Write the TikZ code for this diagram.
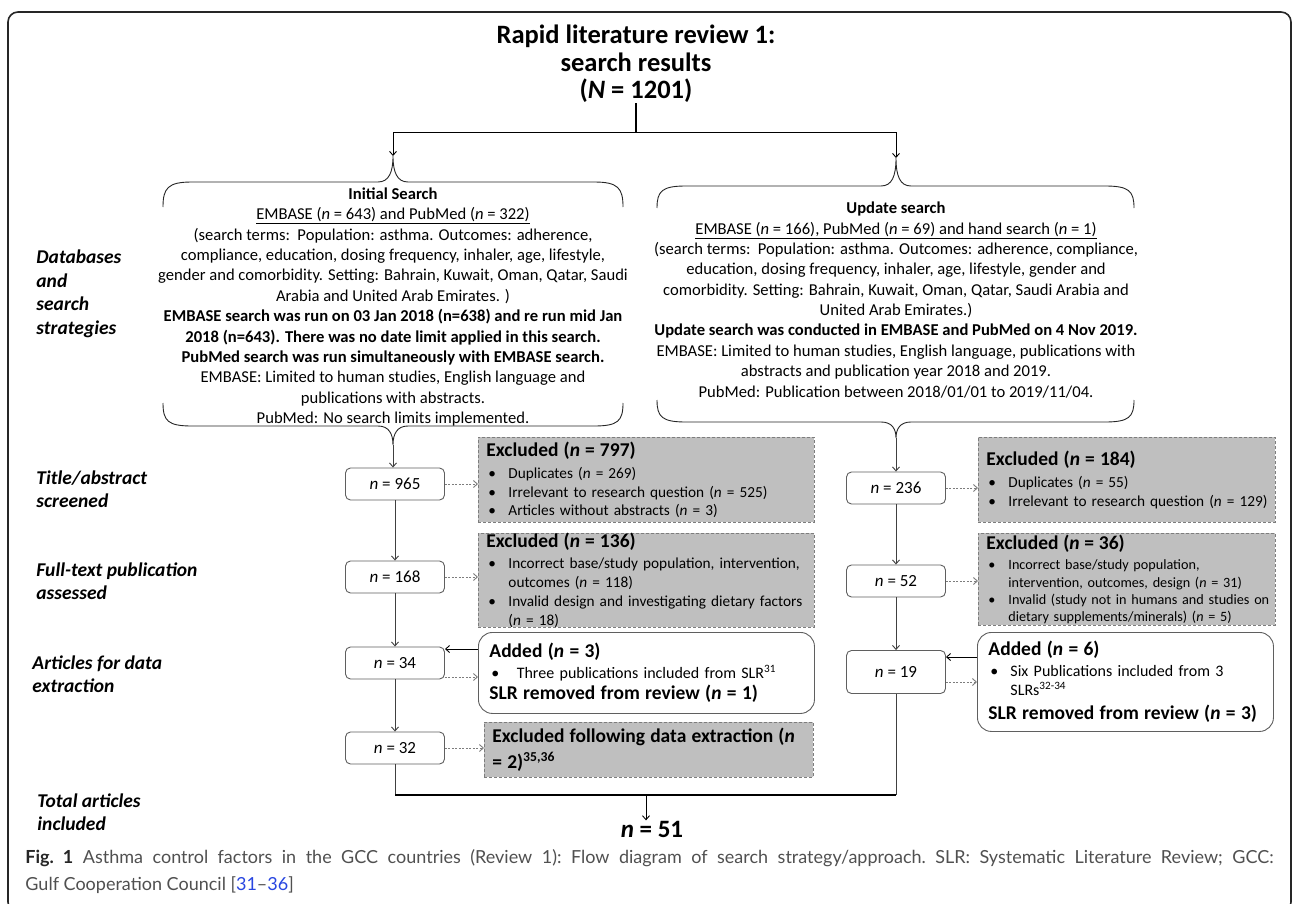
\documentclass[tikz,border=0pt]{standalone}
\usepackage{fontspec}
\setmainfont{Carlito}
\newfontfamily\capfont[Ligatures=TeX]{Lato}
\usepackage{tikz}
\usetikzlibrary{arrows.meta}

\definecolor{exgray}{RGB}{191,191,191}
\definecolor{exline}{RGB}{125,125,125}
\definecolor{boxgray}{RGB}{95,95,95}
\definecolor{capgray}{RGB}{80,80,80}
\definecolor{linkblue}{RGB}{40,70,225}

\newcommand{\hd}[1]{\mbox{\fontsize{19.5}{19}\selectfont\bfseries #1}}
\newcommand{\bul}[1]{\hspace*{2pt}\makebox[20pt][l]{\textbullet}\mbox{#1}}
\newcommand{\hang}[1]{\hspace*{22pt}\mbox{#1}}

\begin{document}
\begin{tikzpicture}[x=1pt,y=-1pt,>={Straight Barb[length=4pt,width=7pt]},line width=0.9pt,
  title/.style={align=center,inner sep=0pt,font=\fontsize{26.5}{27.5}\selectfont\bfseries},
  searchtext/.style={align=center,inner sep=0pt,font=\fontsize{16.6}{20.35}\selectfont},
  rowlabel/.style={anchor=west,align=left,inner sep=0pt,font=\fontsize{19.5}{23.5}\selectfont\bfseries\itshape},
  nbox/.style={draw=boxgray,fill=white,rounded corners=5pt,minimum width=99,minimum height=32,inner sep=0pt,font=\fontsize{17}{20}\selectfont},
  exbox/.style={draw=exline,dash pattern=on 3pt off 2pt,fill=exgray,anchor=north west,inner xsep=8pt,inner ysep=0pt,align=left,font=\fontsize{15.3}{18.8}\selectfont},
  addbox/.style={draw=boxgray,fill=white,rounded corners=14pt,anchor=north west,inner xsep=11pt,inner ysep=0pt,align=left,font=\fontsize{16}{19}\selectfont},
  brace/.style={draw=black!85},
  flow/.style={->,draw=black!75},
  skip/.style={->,draw=exline,dash pattern=on 2pt off 1.5pt},
  back/.style={->,draw=black}]

  \path[fill=white,use as bounding box] (0,0) rectangle (1292,904);
  \draw[line width=1.6pt,rounded corners=10pt,black!85] (8,12) rectangle (1291,912);

  \node[title] (title) at (636,64) {Rapid literature review 1:\\search results\\(\textit{N} = 1201)};

  \node[rowlabel] (lbldb) at (36,294) {Databases\\and\\search\\strategies};
  \node[rowlabel] (lblta) at (36,489) {Title/abstract\\screened};
  \node[rowlabel] (lblft) at (36,581) {Full-text publication\\assessed};
  \node[rowlabel] (lblar) at (32,674) {Articles for data\\extraction};
  \node[rowlabel] (lblto) at (37,812) {Total articles\\included};

  \node[searchtext] (initial) at (393,307) {\textbf{Initial Search}\\
    \underline{EMBASE (\textit{n} = 643) and PubMed (\textit{n} = 322)}\\
    (search terms:\ \ Population: asthma. Outcomes: adherence,\\
    compliance, education, dosing frequency, inhaler, age, lifestyle,\\
    gender and comorbidity. Setting: Bahrain, Kuwait, Oman, Qatar, Saudi\\
    Arabia and United Arab Emirates. )\\
    \textbf{EMBASE search was run on 03 Jan 2018 (n=638) and re run mid Jan}\\
    \textbf{2018 (n=643). There was no date limit applied in this search.}\\
    \textbf{PubMed search was run simultaneously with EMBASE search.}\\
    EMBASE: Limited to human studies, English language and\\
    publications with abstracts.\\
    PubMed: No search limits implemented.};
  \node[searchtext] (update) at (896,300) {\textbf{Update search}\\
    \underline{EMBASE (\textit{n} = 166), PubMed (\textit{n} = 69) and hand search (\textit{n} = 1)}\\
    (search terms:\ \ Population: asthma. Outcomes: adherence, compliance,\\
    education, dosing frequency, inhaler, age, lifestyle, gender and\\
    comorbidity. Setting: Bahrain, Kuwait, Oman, Qatar, Saudi Arabia and\\
    United Arab Emirates.)\\
    \textbf{Update search was conducted in EMBASE and PubMed on 4 Nov 2019.}\\
    EMBASE: Limited to human studies, English language, publications with\\
    abstracts and publication year 2018 and 2019.\\
    PubMed: Publication between 2018/01/01 to 2019/11/04.};

  \coordinate (split) at (636,132);
  \coordinate (ltop) at (393,156);
  \coordinate (rtop) at (896,158);
  \coordinate (lbot) at (393,445);
  \coordinate (rbot) at (896,438);
  \coordinate (merge) at (646,795);

  \draw[brace] (163,207) .. controls (163,188) and (168,182) .. (192,182) -- (378,182)
    .. controls (389,182) and (393,172) .. (ltop) .. controls (393,172) and (397,182) .. (408,182)
    -- (594,182) .. controls (618,182) and (623,188) .. (623,207);
  \draw[brace] (163,403) .. controls (163,421) and (168,426) .. (192,426) -- (378,426)
    .. controls (389,426) and (393,434) .. (lbot) .. controls (393,434) and (397,426) .. (408,426)
    -- (594,426) .. controls (618,426) and (623,421) .. (623,403);
  \draw[brace] (657,208) .. controls (657,191) and (662,186) .. (686,186) -- (881,186)
    .. controls (892,186) and (896,176) .. (rtop) .. controls (896,176) and (900,186) .. (911,186)
    -- (1105,186) .. controls (1129,186) and (1134,191) .. (1134,208);
  \draw[brace] (657,400) .. controls (657,417) and (662,422) .. (686,422) -- (881,422)
    .. controls (892,422) and (896,429) .. (rbot) .. controls (896,429) and (900,422) .. (911,422)
    -- (1105,422) .. controls (1129,422) and (1134,417) .. (1134,400);

  \node[nbox] (n965) at (395,484) {\textit{n} = 965};
  \node[nbox] (n168) at (395,577) {\textit{n} = 168};
  \node[nbox] (n34) at (395,663) {\textit{n} = 34};
  \node[nbox] (n32) at (395,748) {\textit{n} = 32};
  \node[nbox] (n236) at (896,488) {\textit{n} = 236};
  \node[nbox] (n52) at (896,581) {\textit{n} = 52};
  \node[nbox,minimum height=43] (n19) at (896,672) {\textit{n} = 19};

  \node[exbox,text width=320,minimum height=85] (ex797) at (478,437) {\hd{Excluded (\textit{n} = 797)}\\[3pt]
    \bul{Duplicates (\textit{n} = 269)}\\
    \bul{Irrelevant to research question (\textit{n} = 525)}\\
    \bul{Articles without abstracts (\textit{n} = 3)}};
  \node[exbox,text width=320,minimum height=92] (ex136) at (478,533) {\hd{Excluded (\textit{n} = 136)}\\[2pt]
    \bul{Incorrect base/study population, intervention,}\\
    \hang{outcomes (\textit{n} = 118)}\\
    \bul{Invalid design and investigating dietary factors}\\
    \hang{(\textit{n} = 18)}};
  \node[addbox,text width=314,minimum height=81] (add3) at (478,632) {\hd{Added (\textit{n} = 3)}\\[2pt]
    \bul{\ Three publications included from SLR\textsuperscript{31}}\\[2pt]
    \hd{SLR removed from review (\textit{n} = 1)}};
  \node[exbox,text width=313,minimum height=55] (exfol) at (484,722) {\hd{Excluded following data extraction (\textit{n}}\\[5pt]
    \hd{= 2)\textsuperscript{35,36}}};

  \node[exbox,text width=281,minimum height=85] (ex184) at (978,437) {\hd{Excluded (\textit{n} = 184)}\\[3pt]
    \bul{Duplicates (\textit{n} = 55)}\\
    \bul{Irrelevant to research question (\textit{n} = 129)}};
  \node[exbox,text width=281,minimum height=92,font=\fontsize{14.2}{17.4}\selectfont] (ex36) at (978,533) {\hd{Excluded (\textit{n} = 36)}\\[3pt]
    \bul{Incorrect base/study population,}\\
    \hang{intervention, outcomes, design (\textit{n} = 31)}\\
    \bul{Invalid (study not in humans and studies on}\\
    \hang{dietary supplements/minerals) (\textit{n} = 5)}};
  \node[addbox,text width=274,minimum height=99] (add6) at (977,632) {\hd{Added (\textit{n} = 6)}\\[2pt]
    \bul{Six Publications included from 3}\\
    \hang{SLRs\textsuperscript{32-34}}\\[5pt]
    \hd{SLR removed from review (\textit{n} = 3)}};

  \node[inner sep=0pt,font=\fontsize{25}{28}\selectfont\bfseries] (n51) at (652,829) {\textit{n} = 51};

  \draw[line width=1.6pt] (title) -- (split);
  \draw[back] (split) -| (ltop);
  \draw[back] (split) -| (rtop);
  \draw[flow] (lbot) -- (lbot |- n965.north);
  \draw[flow] (rbot) -- (rbot |- n236.north);

  \path (n965) edge[flow] (n168)
        (n168) edge[flow] (n34)
        (n34) edge[flow] (n32)
        (n236) edge[flow] (n52)
        (n52) edge[flow] (n19);

  \draw[skip] (n965) -- (n965 -| ex797.west);
  \draw[skip] (n168) -- (n168 -| ex136.west);
  \draw[skip] (n32) -- (n32 -| exfol.west);
  \draw[skip] (n236) -- (n236 -| ex184.west);
  \draw[skip] (n52) -- (n52 -| ex36.west);
  \draw[back] (add3.west |- 0,649) -- (n34.east |- 0,649);
  \draw[skip] (n34.east |- 0,677) -- (add3.west |- 0,677);
  \draw[back] (add6.west |- 0,657) -- (n19.east |- 0,657);
  \draw[skip] (n19.east |- 0,682) -- (add6.west |- 0,682);

  \draw[black!75] (n32) -- (n32 |- merge);
  \draw[black!75] (n19) -- (n19 |- merge);
  \draw[line width=2pt] (n32 |- merge) -- (n19 |- merge);
  \draw[back] (merge) -- (merge |- n51.north);

  \node[anchor=north west,inner sep=0pt,text width=1248,align=justify,text=capgray,
    font=\capfont\fontsize{18}{27}\selectfont\frenchspacing] (cap) at (25,849) {{\color{black!85}\bfseries Fig. 1} Asthma control factors in the GCC countries (Review 1): Flow diagram of search strategy/approach. SLR: Systematic Literature Review; GCC:\linebreak
    Gulf Cooperation Council [{\color{linkblue}31}–{\color{linkblue}36}]};
\end{tikzpicture}
\end{document}
